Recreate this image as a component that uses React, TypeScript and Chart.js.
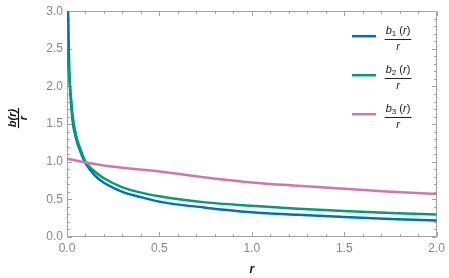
import React, { useEffect, useRef } from "react";
import { Chart, registerables } from "chart.js";

Chart.register(...registerables);

// r values and b_i(r)/r
const R1 = [0.003, 0.006, 0.01, 0.016, 0.02, 0.03, 0.05, 0.075, 0.1, 0.15, 0.2, 0.3, 0.4, 0.5, 0.75, 1.0, 1.25, 1.5, 1.75, 2.0];
const B1 = [3.6, 3.0, 2.45, 2.0, 1.85, 1.55, 1.3, 1.12, 0.98, 0.82, 0.72, 0.6, 0.53, 0.47, 0.39, 0.33, 0.295, 0.265, 0.24, 0.22];

const R2 = [0, 0.005, 0.01, 0.016, 0.02, 0.03, 0.05, 0.075, 0.1, 0.15, 0.2, 0.3, 0.4, 0.5, 0.75, 1.0, 1.25, 1.5, 1.75, 2.0];
const B2 = [2.52, 2.35, 2.2, 2.0, 1.9, 1.62, 1.34, 1.15, 1.0, 0.87, 0.78, 0.66, 0.59, 0.54, 0.46, 0.415, 0.375, 0.345, 0.32, 0.3];

const R3 = [0, 0.1, 0.2, 0.3, 0.5, 0.75, 1.0, 1.25, 1.5, 1.75, 2.0];
const B3 = [1.04, 0.99, 0.95, 0.92, 0.87, 0.79, 0.725, 0.68, 0.64, 0.6, 0.57];

const SUBSCRIPTS = ["1", "2", "3"];
const COLORS = ["#0072B2", "#009E73", "#CC79A7"];

const X_MIN = 0, X_MAX = 2, Y_MIN = 0, Y_MAX = 3;
const MAJOR = 0.5, MINOR = 0.1;

const FONT = "'Liberation Sans', Arial, sans-serif";

const toPts = (xs: number[], ys: number[]) => xs.map((x, i) => ({ x, y: ys[i] }));

const framePlugin = {
  id: "frameTicks",
  beforeDatasetsDraw(chart: any) {
    const { ctx, chartArea: a, scales } = chart;
    const x = scales.x, y = scales.y;
    ctx.save();
    ctx.strokeStyle = "#a3a3a3";
    ctx.lineWidth = 1;
    const L = Math.round(a.left) + 0.5, R = Math.round(a.right) - 0.5;
    const T = Math.round(a.top) + 0.5, B = Math.round(a.bottom) - 0.5;
    ctx.strokeRect(L, T, R - L, B - T);
    ctx.beginPath();
    const nx = Math.round((X_MAX - X_MIN) / MINOR);
    for (let i = 0; i <= nx; i++) {
      const v = X_MIN + i * MINOR;
      const px = Math.round(x.getPixelForValue(v)) + 0.5;
      const len = i % Math.round(MAJOR / MINOR) === 0 ? 4.5 : 2.5;
      ctx.moveTo(px, B); ctx.lineTo(px, B - len);
      ctx.moveTo(px, T); ctx.lineTo(px, T + len);
    }
    const ny = Math.round((Y_MAX - Y_MIN) / MINOR);
    for (let i = 0; i <= ny; i++) {
      const v = Y_MIN + i * MINOR;
      const py = Math.round(y.getPixelForValue(v)) + 0.5;
      const len = i % Math.round(MAJOR / MINOR) === 0 ? 4.5 : 2.5;
      ctx.moveTo(L, py); ctx.lineTo(L + len, py);
      ctx.moveTo(R, py); ctx.lineTo(R - len, py);
    }
    ctx.stroke();
    ctx.restore();
  },
};

function drawSegments(ctx: CanvasRenderingContext2D, segs: { t: string; f: string; dy?: number }[], x: number, y: number) {
  let cx = x;
  for (const s of segs) {
    ctx.font = s.f;
    ctx.fillText(s.t, cx, y + (s.dy || 0));
    cx += ctx.measureText(s.t).width;
  }
}
function segWidth(ctx: CanvasRenderingContext2D, segs: { t: string; f: string }[]) {
  let w = 0;
  for (const s of segs) { ctx.font = s.f; w += ctx.measureText(s.t).width; }
  return w;
}

const labelsPlugin = {
  id: "labels",
  afterDraw(chart: any) {
    const { ctx, chartArea: a, data } = chart;
    ctx.save();
    ctx.textAlign = "left";
    ctx.textBaseline = "alphabetic";
    // legend
    data.datasets.forEach((ds: any, i: number) => {
      const ly = a.top + 25 + i * 39;
      ctx.strokeStyle = ds.borderColor;
      ctx.lineWidth = 2.5;
      ctx.beginPath();
      ctx.moveTo(352, ly); ctx.lineTo(376, ly);
      ctx.stroke();
      const segs = [
        { t: "b", f: `italic 11px ${FONT}` },
        { t: SUBSCRIPTS[i], f: `8px ${FONT}`, dy: 2.5 },
        { t: " (", f: `11px ${FONT}` },
        { t: "r", f: `italic 11px ${FONT}` },
        { t: ")", f: `11px ${FONT}` },
      ];
      ctx.fillStyle = "#222";
      const w = segWidth(ctx, segs);
      const cx = 398;
      drawSegments(ctx, segs, cx - w / 2, ly - 2.5);
      ctx.strokeStyle = "#222";
      ctx.lineWidth = 1;
      ctx.beginPath();
      const by = Math.round(ly + 2.3) + 0.5;
      ctx.moveTo(cx - w / 2 - 1, by); ctx.lineTo(cx + w / 2 + 1, by);
      ctx.stroke();
      ctx.font = `italic 11px ${FONT}`;
      ctx.textAlign = "center";
      ctx.fillText("r", cx, ly + 14);
      ctx.textAlign = "left";
    });
    // x axis label
    ctx.fillStyle = "#111";
    ctx.font = `italic bold 12px ${FONT}`;
    ctx.textAlign = "center";
    ctx.fillText("r", (a.left + a.right) / 2, 273);
    // y axis label (fraction, rotated)
    ctx.translate(18, 118);
    ctx.rotate(-Math.PI / 2);
    ctx.font = `italic bold 11px ${FONT}`;
    const num = "b(r)";
    const nw = ctx.measureText(num).width;
    ctx.fillText(num, 0, -2.5);
    ctx.strokeStyle = "#111";
    ctx.lineWidth = 1.2;
    ctx.beginPath();
    ctx.moveTo(-nw / 2 - 1, 0.5); ctx.lineTo(nw / 2 + 1, 0.5);
    ctx.stroke();
    ctx.fillText("r", 0, 9);
    ctx.restore();
  },
};

export default function App() {
  const ref = useRef<HTMLCanvasElement | null>(null);
  useEffect(() => {
    if (!ref.current) return;
    const chart = new Chart(ref.current, {
      type: "line",
      data: {
        datasets: [
          { label: "b1(r)/r", data: toPts(R1, B1), borderColor: COLORS[0], order: 2 },
          { label: "b2(r)/r", data: toPts(R2, B2), borderColor: COLORS[1], order: 1 },
          { label: "b3(r)/r", data: toPts(R3, B3), borderColor: COLORS[2], order: 0 },
        ].map((d) => ({ ...d, borderWidth: 2.5, pointRadius: 0, cubicInterpolationMode: "monotone" as const, fill: false })),
      },
      options: {
        animation: false,
        responsive: false,
        events: [],
        layout: { padding: { left: 0, right: 10, top: 6, bottom: 0 } },
        plugins: { legend: { display: false }, tooltip: { enabled: false } },
        scales: {
          x: {
            type: "linear",
            min: X_MIN,
            max: X_MAX,
            grid: { display: false, drawTicks: false },
            border: { display: false },
            ticks: {
              stepSize: MAJOR,
              padding: 4,
              color: "#888888",
              font: { family: FONT, size: 12 },
              maxRotation: 0,
              callback: (v: any) => Number(v).toFixed(1),
            },
            afterFit: (s: any) => { s.height = 41; },
          },
          y: {
            type: "linear",
            min: Y_MIN,
            max: Y_MAX,
            grid: { display: false, drawTicks: false },
            border: { display: false },
            ticks: {
              stepSize: MAJOR,
              padding: 4,
              color: "#888888",
              font: { family: FONT, size: 12 },
              callback: (v: any) => Number(v).toFixed(1),
            },
            afterFit: (s: any) => { s.width = 67; },
          },
        },
      },
      plugins: [framePlugin, labelsPlugin],
    } as any);
    return () => chart.destroy();
  }, []);
  return (
    <div style={{ position: "absolute", left: 0, top: 0, width: 449, height: 278, background: "#fff" }}>
      <canvas ref={ref} width={449} height={278} style={{ display: "block" }} />
    </div>
  );
}
